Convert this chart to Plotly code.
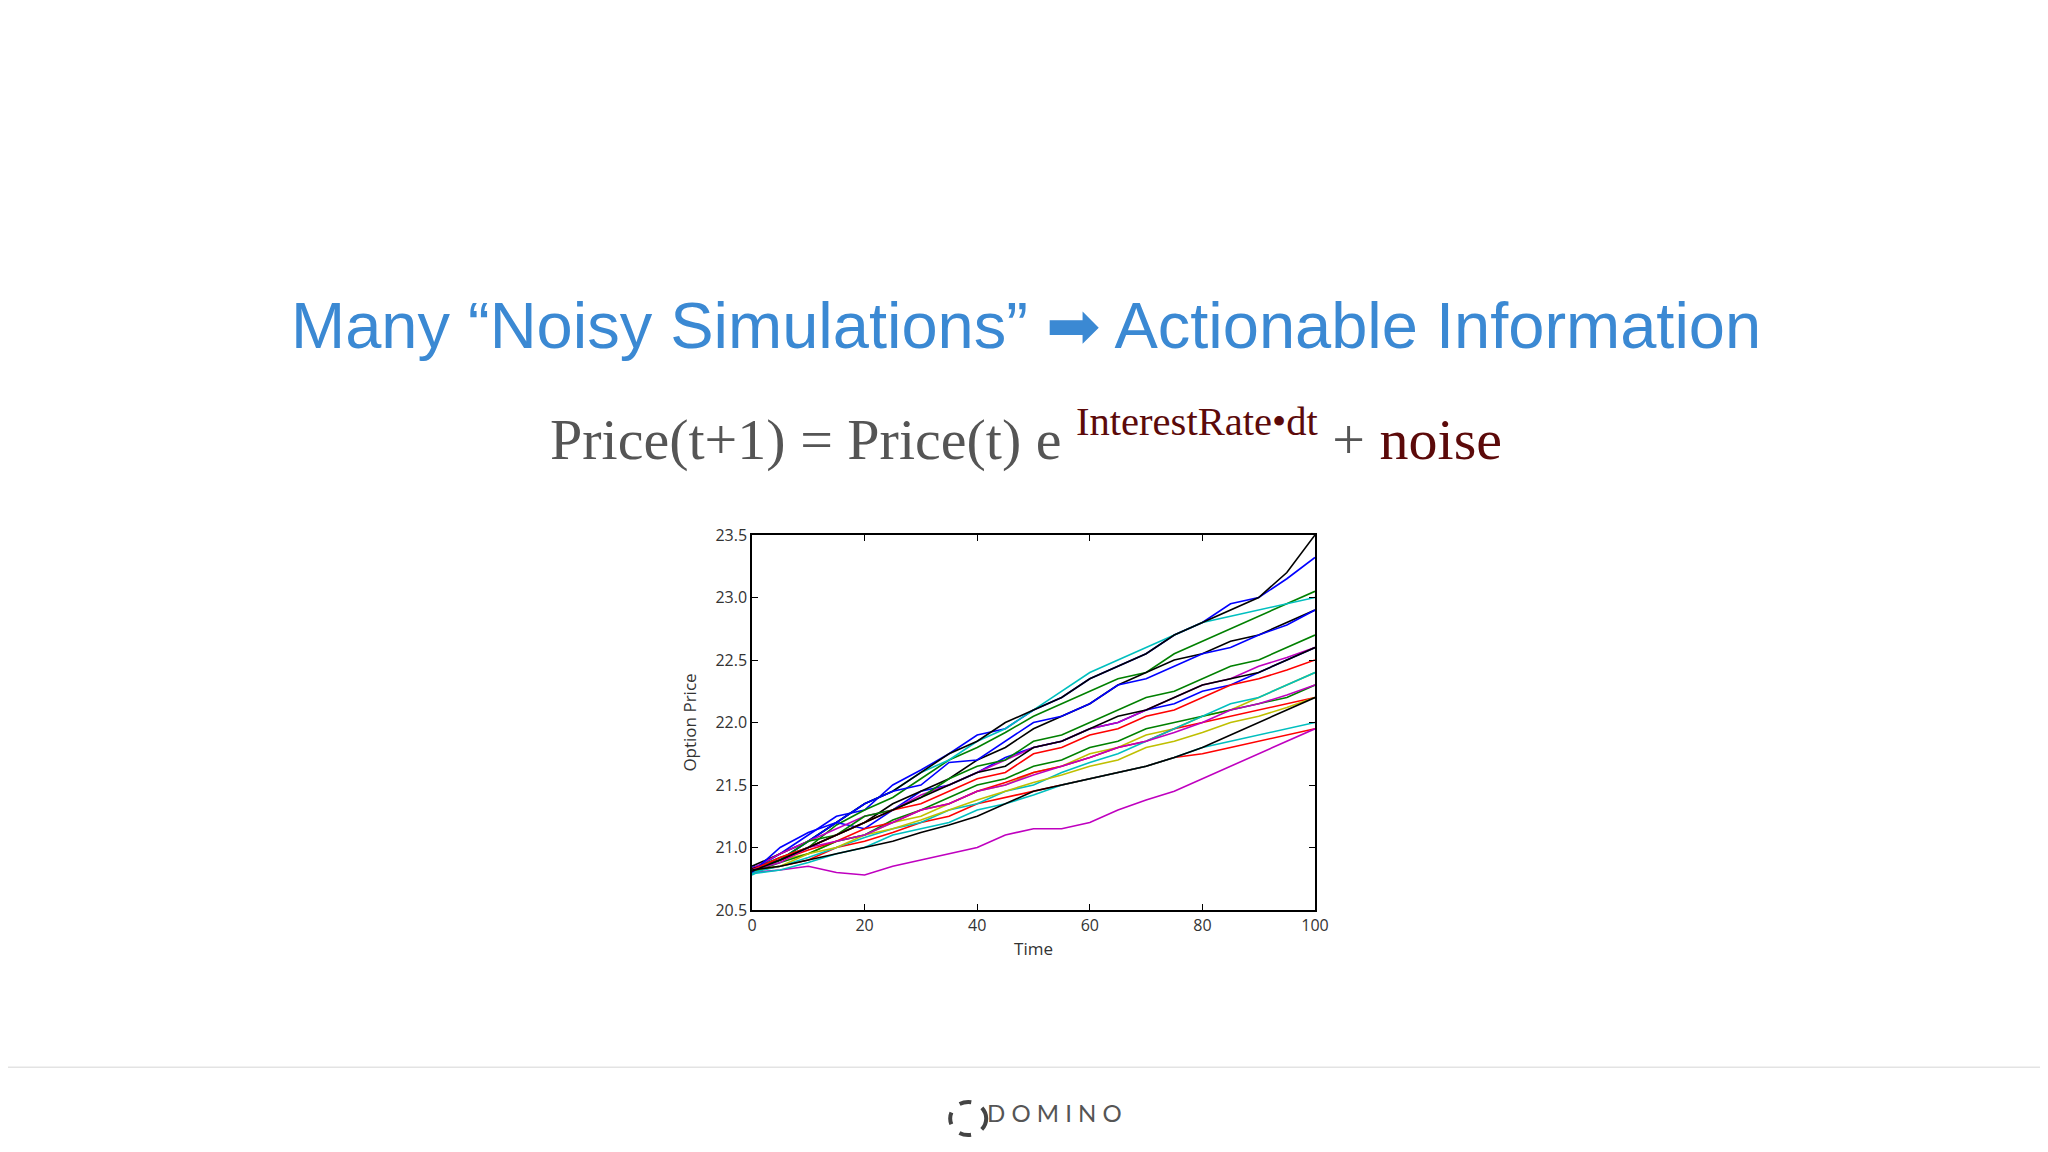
import plotly.graph_objects as go

# time steps (every 5 steps) and simulated price paths
time = list(range(0, 101, 5))

paths = {
    "b1": [20.82, 20.95, 21.1, 21.25, 21.3, 21.5, 21.62, 21.75, 21.9, 21.95, 22.1, 22.2, 22.35, 22.45, 22.55, 22.7, 22.8, 22.95, 23.0, 23.15, 23.32],
    "g1": [20.83, 20.92, 21.0, 21.18, 21.3, 21.4, 21.55, 21.7, 21.8, 21.92, 22.05, 22.15, 22.25, 22.35, 22.4, 22.55, 22.65, 22.75, 22.85, 22.95, 23.05],
    "r1": [20.81, 20.85, 20.9, 21.0, 21.05, 21.12, 21.2, 21.25, 21.35, 21.4, 21.45, 21.5, 21.55, 21.6, 21.65, 21.72, 21.75, 21.8, 21.85, 21.9, 21.95],
    "c1": [20.78, 20.9, 21.05, 21.2, 21.35, 21.45, 21.6, 21.7, 21.85, 21.95, 22.1, 22.25, 22.4, 22.5, 22.6, 22.7, 22.8, 22.85, 22.9, 22.95, 23.0],
    "m1": [20.8, 20.82, 20.85, 20.8, 20.78, 20.85, 20.9, 20.95, 21.0, 21.1, 21.15, 21.15, 21.2, 21.3, 21.38, 21.45, 21.55, 21.65, 21.75, 21.85, 21.95],
    "y1": [20.8, 20.9, 20.95, 21.05, 21.1, 21.2, 21.25, 21.35, 21.45, 21.5, 21.6, 21.65, 21.75, 21.8, 21.9, 21.95, 22.05, 22.1, 22.2, 22.3, 22.4],
    "k1": [20.85, 20.95, 21.05, 21.2, 21.35, 21.45, 21.6, 21.75, 21.85, 22.0, 22.1, 22.2, 22.35, 22.45, 22.55, 22.7, 22.8, 22.9, 23.0, 23.2, 23.5],
    "b2": [20.84, 20.9, 21.05, 21.2, 21.15, 21.3, 21.45, 21.5, 21.6, 21.72, 21.8, 21.85, 21.95, 22.0, 22.1, 22.15, 22.25, 22.3, 22.4, 22.5, 22.6],
    "g2": [20.8, 20.88, 20.95, 21.05, 21.1, 21.22, 21.3, 21.4, 21.5, 21.55, 21.65, 21.7, 21.8, 21.85, 21.95, 22.0, 22.05, 22.1, 22.15, 22.2, 22.3],
    "r2": [20.83, 20.9, 20.98, 21.05, 21.15, 21.2, 21.3, 21.35, 21.45, 21.52, 21.6, 21.65, 21.72, 21.8, 21.85, 21.95, 22.0, 22.05, 22.1, 22.15, 22.2],
    "c2": [20.8, 20.85, 20.92, 21.0, 21.08, 21.15, 21.2, 21.3, 21.35, 21.45, 21.5, 21.6, 21.68, 21.75, 21.85, 21.95, 22.05, 22.15, 22.2, 22.3, 22.4],
    "m2": [20.83, 20.95, 21.05, 21.15, 21.25, 21.3, 21.42, 21.5, 21.6, 21.7, 21.8, 21.85, 21.95, 22.0, 22.1, 22.2, 22.3, 22.35, 22.45, 22.52, 22.6],
    "y2": [20.82, 20.85, 20.95, 21.0, 21.1, 21.15, 21.22, 21.3, 21.38, 21.45, 21.52, 21.58, 21.65, 21.7, 21.8, 21.85, 21.92, 22.0, 22.05, 22.12, 22.2],
    "k2": [20.83, 20.9, 21.0, 21.1, 21.2, 21.35, 21.45, 21.55, 21.7, 21.8, 21.95, 22.05, 22.15, 22.3, 22.4, 22.5, 22.55, 22.65, 22.7, 22.8, 22.9],
    "b3": [20.8, 21.0, 21.12, 21.2, 21.35, 21.45, 21.5, 21.68, 21.7, 21.85, 22.0, 22.05, 22.15, 22.3, 22.35, 22.45, 22.55, 22.6, 22.7, 22.78, 22.9],
    "g3": [20.82, 20.9, 21.05, 21.1, 21.25, 21.3, 21.4, 21.55, 21.65, 21.7, 21.85, 21.9, 22.0, 22.1, 22.2, 22.25, 22.35, 22.45, 22.5, 22.6, 22.7],
    "r3": [20.82, 20.92, 21.0, 21.1, 21.2, 21.3, 21.35, 21.45, 21.55, 21.6, 21.75, 21.8, 21.9, 21.95, 22.05, 22.1, 22.2, 22.3, 22.35, 22.42, 22.5],
    "c3": [20.79, 20.82, 20.88, 20.95, 21.0, 21.1, 21.15, 21.2, 21.3, 21.35, 21.42, 21.5, 21.55, 21.6, 21.65, 21.72, 21.8, 21.85, 21.9, 21.95, 22.0],
    "m3": [20.82, 20.88, 21.0, 21.05, 21.1, 21.2, 21.3, 21.35, 21.45, 21.5, 21.58, 21.65, 21.72, 21.8, 21.85, 21.92, 22.0, 22.1, 22.15, 22.22, 22.3],
    "k3": [20.82, 20.85, 20.9, 20.95, 21.0, 21.05, 21.12, 21.18, 21.25, 21.35, 21.45, 21.5, 21.55, 21.6, 21.65, 21.72, 21.8, 21.9, 22.0, 22.1, 22.2],
    "k4": [20.81, 20.9, 21.0, 21.1, 21.2, 21.3, 21.4, 21.5, 21.6, 21.65, 21.8, 21.85, 21.95, 22.05, 22.1, 22.2, 22.3, 22.35, 22.4, 22.5, 22.6],
}

# old matplotlib colour cycle
colors = {"b": "#0000ff", "g": "#008000", "r": "#ff0000", "c": "#00bfbf",
          "m": "#bf00bf", "y": "#bfbf00", "k": "#000000"}

fig = go.Figure()
for name, vals in paths.items():
    fig.add_trace(go.Scatter(x=time, y=vals, mode="lines",
                             line=dict(color=colors[name[0]], width=1.6),
                             showlegend=False, hoverinfo="skip"))

axis_style = dict(showline=True, linecolor="black", linewidth=1.5, mirror="ticks",
                  ticks="inside", ticklen=6, tickcolor="black", showgrid=False,
                  zeroline=False, tickfont=dict(family="Open Sans", size=16, color="#333"))
fig.update_xaxes(range=[0, 100], dtick=20, title=dict(text="Time", font=dict(family="Open Sans", size=17, color="#333"), standoff=8), **axis_style)
fig.update_yaxes(range=[20.5, 23.5], dtick=0.5, tickformat=".1f",
                 title=dict(text="Option Price", font=dict(family="Open Sans", size=17, color="#333"), standoff=14), **axis_style)

# paper coordinates are relative to the plot area (563 px wide, 375 px tall)
fig.update_layout(
    width=2048, height=1152, autosize=False,
    paper_bgcolor="white", plot_bgcolor="white",
    margin=dict(l=744, r=741, t=527, b=250),
    annotations=[
        dict(text="Many “Noisy Simulations” ➡ Actionable Information", x=0.487, y=1.662,
             xref="paper", yref="paper", showarrow=False,
             font=dict(family="Liberation Sans", size=65, color="#3b89d3")),
        dict(text="Price(t+1) = Price(t) e <sup><span style='color:#5c0a0a'>InterestRate•dt</span></sup> + "
                  "<span style='color:#5c0a0a'>noise</span>",
             x=0.487, y=1.367, xref="paper", yref="paper", showarrow=False,
             font=dict(family="Liberation Serif", size=58, color="#555")),
        dict(text="D O M I N O", x=0.538, y=-0.584, xref="paper", yref="paper", showarrow=False,
             font=dict(family="Lato", size=24, color="#555")),
    ],
    shapes=[
        dict(type="line", xref="paper", yref="paper", x0=-1.34, x1=2.31, y0=-0.419, y1=-0.419,
             line=dict(color="#e3e3e3", width=1.5)),
        dict(type="circle", xref="paper", yref="paper", x0=0.352, x1=0.416, y0=-0.628, y1=-0.54,
             line=dict(color="#444", width=4, dash="dash")),
    ],
)
fig.layout.shapes[1].update(y0=-0.60, y1=-0.512)

fig.write_html("out.html")
